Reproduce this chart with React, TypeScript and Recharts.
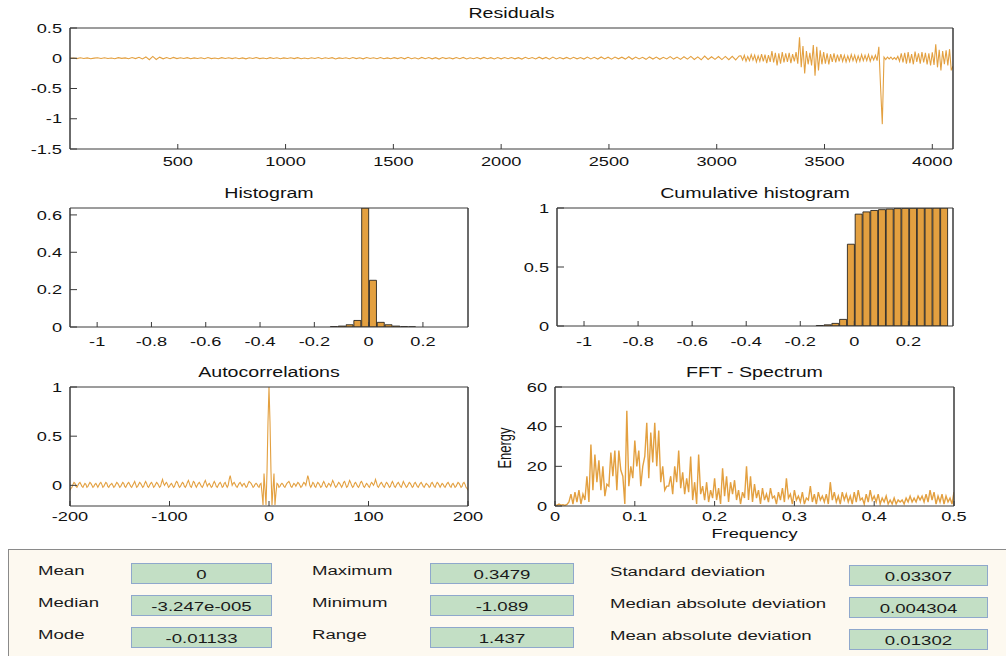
import { ComposedChart, Line, Bar, XAxis, YAxis } from "recharts";

const FONT = '"Liberation Sans", Arial, Helvetica, sans-serif';
const ORANGE = "#e3a040";
const AXIS = "#3a3a3a";
const SX = 1.4; // the source picture is stretched horizontally

// residuals: quiet part one value every 16 samples, busy tail one value every 8 samples
const quietStep = 16;
const residQuiet = [
  0.0, 0.004, -0.006, 0.008, -0.003, 0.006, -0.008, 0.002, 0.007, -0.005, 0.009, -0.004, 0.003, -0.007, 0.01, -0.002,
  0.006, -0.009, 0.011, -0.006, 0.015, -0.012, 0.022, -0.025, 0.03, -0.02, 0.018, -0.01, 0.012, -0.008, 0.014, -0.006,
  0.008, -0.005, 0.01, -0.007, 0.006, -0.004, 0.009, -0.008, 0.012, -0.006, 0.005, -0.009, 0.01, -0.003, 0.007, -0.006,
  0.009, -0.007, 0.006, -0.01, 0.008, -0.004, 0.011, -0.006, 0.005, -0.008, 0.01, -0.005, 0.007, -0.009, 0.006, -0.003,
  0.008, -0.006, 0.01, -0.008, 0.005, -0.007, 0.009, -0.004, 0.012, -0.009, 0.007, -0.005, 0.01, -0.011, 0.006, -0.004,
  0.009, -0.007, 0.011, -0.006, 0.008, -0.01, 0.012, -0.005, 0.007, -0.008, 0.013, -0.009, 0.006, -0.007, 0.01, -0.006,
  0.012, -0.01, 0.015, -0.008, 0.009, -0.012, 0.014, -0.007, 0.011, -0.009, 0.01, -0.013, 0.012, -0.006, 0.009, -0.01,
  0.011, -0.008, 0.013, -0.011, 0.009, -0.007, 0.012, -0.01, 0.014, -0.008, 0.01, -0.012, 0.011, -0.009, 0.013, -0.007,
  0.012, -0.01, 0.009, -0.013, 0.015, -0.008, 0.011, -0.012, 0.018, -0.01, 0.013, -0.015, 0.02, -0.011, 0.012, -0.009,
  0.014, -0.012, 0.016, -0.01, 0.012, -0.014, 0.019, -0.011, 0.015, -0.013, 0.022, -0.012, 0.017, -0.015, 0.02, -0.01,
  0.018, -0.014, 0.025, -0.016, 0.02, -0.012, 0.016, -0.018, 0.022, -0.013, 0.019, -0.017, 0.015, -0.011, 0.028, -0.014,
  0.02, -0.018, 0.024, -0.015, 0.03, -0.02, 0.022, -0.025, 0.035, -0.02, 0.025, -0.018, 0.028, -0.022, 0.03, -0.024,
  0.032, -0.028, 0.038,
];
const busyStart = 3112;
const busyStep = 8;
const residBusy = [
  0.04, -0.03, 0.05, -0.05, 0.03, -0.04, 0.06, -0.03, 0.05, -0.06, 0.04, -0.05,
  0.07, -0.05, 0.06, -0.08, 0.05, -0.06, 0.12, -0.07, 0.09, -0.12, 0.08, -0.09,
  0.1, -0.07, 0.08, -0.06, 0.09, -0.08, 0.07, -0.05, 0.1, -0.09, 0.348, -0.15,
  0.2, -0.25, 0.12, -0.1, 0.09, -0.12, 0.22, -0.29, 0.19, -0.2, 0.13, -0.1,
  0.1, -0.09, 0.08, -0.1, 0.07, -0.06, 0.08, -0.07, 0.06, -0.05, 0.07, -0.05,
  0.05, -0.06, 0.04, -0.05, 0.06, -0.04, 0.05, -0.06, 0.04, -0.05, 0.06, -0.04,
  0.05, -0.04, 0.06, -0.05, 0.04, -0.03, 0.05, -0.04, 0.19, -0.47, -1.089, 0.02,
  -0.02, 0.02, -0.01, 0.02, -0.02, 0.01, -0.02, 0.03, -0.05, 0.08, -0.07, 0.09,
  -0.09, 0.1, -0.08, 0.07, -0.1, 0.11, -0.06, 0.08, -0.09, 0.1, -0.07, 0.09,
  -0.1, 0.08, -0.12, 0.1, -0.11, 0.23, -0.15, 0.14, -0.2, 0.12, -0.1, 0.13,
  -0.12, 0.15, -0.2, -0.13,
];
const residTicksX = [500, 1000, 1500, 2000, 2500, 3000, 3500, 4000];
const residTicksY = [-1.5, -1, -0.5, 0, 0.5];

// histogram bins (50 bins between min and max)
const binCenters = [
  -1.0746, -1.0459, -1.0171, -0.9884, -0.9597, -0.9309, -0.9022, -0.8735, -0.8447, -0.816,
  -0.7872, -0.7585, -0.7298, -0.701, -0.6723, -0.6436, -0.6148, -0.5861, -0.5573, -0.5286,
  -0.4999, -0.4711, -0.4424, -0.4137, -0.3849, -0.3562, -0.3274, -0.2987, -0.27, -0.2412,
  -0.2125, -0.1838, -0.155, -0.1263, -0.0975, -0.0688, -0.0401, -0.0113, 0.0174, 0.0461,
  0.0749, 0.1036, 0.1323, 0.1611, 0.1898, 0.2186, 0.2473, 0.276, 0.3048, 0.3335,
];
const histValues = [
  0, 0, 0, 0, 0, 0, 0, 0, 0, 0,
  0, 0, 0, 0, 0, 0, 0, 0, 0, 0,
  0, 0, 0, 0, 0, 0, 0, 0, 0, 0,
  0, 0, 0, 0.002, 0.005, 0.012, 0.035, 0.637, 0.25, 0.025,
  0.012, 0.005, 0.002, 0.001, 0, 0, 0, 0, 0, 0,
];
const cumValues = [
  0, 0, 0, 0, 0, 0, 0, 0, 0, 0,
  0, 0, 0, 0, 0, 0, 0, 0, 0, 0,
  0, 0, 0, 0, 0, 0, 0, 0, 0, 0,
  0, 0, 0, 0.004, 0.01, 0.022, 0.056, 0.693, 0.948, 0.967,
  0.979, 0.986, 0.991, 0.995, 0.997, 0.998, 0.999, 0.999, 1, 1,
];
const histTicksX = [-1, -0.8, -0.6, -0.4, -0.2, 0, 0.2];
const histTicksY = [0, 0.2, 0.4, 0.6];
const cumTicksY = [0, 0.5, 1];

// autocorrelation for lags 0..200 (symmetric)
const acfPositive = [
  1, 0.65, 0.14, -0.2, -0.04, 0.12, -0.2, -0.08, 0.02, 0.01,
  -0.02, -0.01, 0.01, 0.02, 0.01, -0.01, -0.02, 0.0, 0.02, 0.03,
  0.04, 0.02, -0.01, -0.02, 0.0, 0.02, 0.01, -0.01, 0.01, 0.03,
  0.02, 0.0, -0.02, -0.01, 0.01, 0.03, 0.02, 0.0, 0.05, 0.1,
  0.06, 0.0, -0.02, 0.0, 0.03, 0.02, -0.01, -0.02, 0.01, 0.03,
  0.02, 0.0, -0.02, -0.01, 0.02, 0.04, 0.02, -0.01, -0.02, 0.0,
  0.02, 0.01, -0.01, 0.02, 0.05, 0.03, 0.0, -0.02, -0.01, 0.01,
  0.03, 0.02, 0.0, -0.02, 0.0, 0.03, 0.04, 0.01, -0.02, -0.01,
  0.02, 0.05, 0.03, 0.0, -0.02, -0.01, 0.02, 0.03, 0.01, -0.01,
  -0.02, 0.0, 0.03, 0.04, 0.02, -0.01, -0.02, 0.0, 0.02, 0.01,
  -0.01, -0.02, 0.01, 0.03, 0.02, 0.0, 0.02, 0.06, 0.03, -0.01,
  -0.02, 0.0, 0.02, 0.03, 0.01, -0.01, -0.02, 0.01, 0.03, 0.02,
  0.0, -0.02, -0.01, 0.02, 0.04, 0.02, -0.01, -0.02, 0.0, 0.02,
  0.03, 0.01, -0.01, -0.02, 0.01, 0.04, 0.02, 0.0, -0.02, -0.01,
  0.01, 0.03, 0.02, 0.0, -0.02, -0.01, 0.02, 0.03, 0.01, -0.01,
  -0.02, 0.0, 0.02, 0.03, 0.01, -0.01, -0.02, 0.0, 0.02, 0.01,
  0.0, -0.02, -0.01, 0.02, 0.03, 0.01, -0.01, -0.02, 0.01, 0.03,
  0.02, 0.0, -0.02, 0.0, 0.02, 0.01, -0.01, -0.02, 0.0, 0.02,
  0.03, 0.01, -0.01, -0.02, 0.01, 0.02, 0.0, -0.02, -0.01, 0.01,
  0.03, 0.02, 0.0, -0.02, -0.01, 0.02, 0.03, 0.01, -0.02, -0.03,
  -0.05,
];
const acfTicksX = [-200, -100, 0, 100, 200];
const acfTicksY = [0, 0.5, 1];

// FFT energy, one value every 0.0025 in frequency
const fftStep = 0.0025;
const fftEnergy = [
  0.5, 0.3, 1, 0.4, 0.6, 0.3, 0.8, 2, 6, 1,
  7, 2, 8, 1, 6, 3, 15, 2, 31, 8,
  26, 12, 23, 8, 20, 5, 11, 10, 27, 15,
  28, 8, 28, 18, 15, 1, 48, 10, 20, 14,
  33, 20, 28, 10, 20, 25, 42, 14, 37, 22,
  42, 20, 38, 12, 20, 8, 10, 10, 15, 6,
  20, 12, 28, 9, 17, 6, 14, 7, 25, 3,
  12, 1, 26, 6, 10, 3, 12, 2, 8, 4,
  14, 3, 9, 1, 19, 5, 15, 2, 12, 6,
  13, 3, 8, 1, 7, 4, 20, 3, 15, 2,
  11, 4, 8, 1, 9, 3, 6, 2, 9, 4,
  5, 1, 7, 3, 9, 2, 14, 4, 6, 1,
  8, 3, 5, 2, 7, 1, 4, 3, 10, 2,
  6, 1, 7, 3, 5, 2, 6, 1, 12, 3,
  7, 2, 5, 1, 7, 3, 6, 2, 5, 1,
  7, 2, 8, 3, 4, 1, 6, 2, 8, 3,
  5, 2, 6, 1, 4, 2, 5, 1, 3, 1,
  4, 1, 3, 2, 3, 1, 4, 2, 5, 2,
  4, 2, 5, 3, 5, 2, 6, 2, 8, 3,
  7, 1, 5, 2, 6, 1, 5, 2, 4, 1,
  7,
];
const fftTicksX = [0, 0.1, 0.2, 0.3, 0.4, 0.5];
const fftTicksY = [0, 20, 40, 60];

// statistics panel
const statNamesA = ["Mean", "Median", "Mode"];
const statValuesA = ["0", "-3.247e-005", "-0.01133"];
const statNamesB = ["Maximum", "Minimum", "Range"];
const statValuesB = ["0.3479", "-1.089", "1.437"];
const statNamesC = ["Standard deviation", "Median absolute deviation", "Mean absolute deviation"];
const statValuesC = ["0.03307", "0.004304", "0.01302"];

const residData = [
  ...residQuiet.map((y, i) => ({ x: i * quietStep, y })),
  ...residBusy.map((y, j) => ({ x: busyStart + j * busyStep, y })),
];
const histData = binCenters.map((x, i) => ({ x, v: histValues[i] }));
const cumData = binCenters.map((x, i) => ({ x, v: cumValues[i] }));
const acfData = [
  ...acfPositive.slice(1).map((y, i) => ({ x: -(i + 1), y })).reverse(),
  ...acfPositive.map((y, i) => ({ x: i, y })),
];
const fftData = fftEnergy.map((y, i) => ({ x: +(i * fftStep).toFixed(4), y }));

function XTick(props: any) {
  const { x, y, payload, off } = props;
  return (
    <g transform={`translate(${x},${y + off}) scale(${SX},1)`}>
      <text textAnchor="middle" fontSize={13} fontFamily={FONT} fill="#111">
        {payload.value}
      </text>
    </g>
  );
}

function YTick(props: any) {
  const { x, y, payload } = props;
  return (
    <g transform={`translate(${x - 8},${y + 4.6}) scale(${SX},1)`}>
      <text textAnchor="end" fontSize={13} fontFamily={FONT} fill="#111">
        {payload.value}
      </text>
    </g>
  );
}

function boxAxes(xd: number[], xt: number[], yd: number[], yt: number[], off: number, key: string) {
  const xl = { stroke: AXIS, strokeWidth: 1 };
  const yl = { stroke: AXIS, strokeWidth: 1.5 };
  return [
    <XAxis key="xb" xAxisId="b" type="number" dataKey="x" domain={xd} ticks={xt} interval={0}
      allowDataOverflow height={30} tickSize={-5} tickMargin={5} axisLine={xl} tickLine={xl}
      tick={<XTick off={off} />} />,
    <XAxis key="xt" xAxisId="t" orientation="top" type="number" dataKey="x" domain={xd} ticks={xt}
      interval={0} allowDataOverflow height={1} tickSize={-5} axisLine={xl} tickLine={xl} tick={false} />,
    <YAxis key="yl" yAxisId="l" type="number" domain={yd} ticks={yt} interval={0} allowDataOverflow
      width={60} tickSize={-7} tickMargin={7} axisLine={yl} tickLine={xl} tick={<YTick />} />,
    <YAxis key="yr" yAxisId="r" orientation="right" type="number" domain={yd} ticks={yt} interval={0}
      allowDataOverflow width={1} tickSize={-7} axisLine={yl} tickLine={xl} tick={false} />,
    // invisible copy of the series so the mirrored box axes have something to measure
    <Line key="mirror" xAxisId="t" yAxisId="r" type="linear" dataKey={key} stroke="none"
      dot={false} activeDot={false} isAnimationActive={false} />,
  ];
}

function Frame({ L, T, R, B, data, children }: any) {
  return (
    <div style={{ position: "absolute", left: L - 60, top: T - 10 }}>
      <ComposedChart width={R - L + 90} height={B - T + 50} data={data}
        margin={{ top: 9, right: 29, bottom: 10, left: 0 }}>
        {children}
      </ComposedChart>
    </div>
  );
}

function Title({ L, R, T, text }: any) {
  return (
    <div style={{
      position: "absolute", left: L, width: R - L, top: T - 23, textAlign: "center",
      fontFamily: FONT, fontSize: 14, color: "#111", transform: `scaleX(${SX})`, lineHeight: "16px",
    }}>
      {text}
    </div>
  );
}

function StatColumn({ names, values, labelX, boxX, boxW, shift }: any) {
  const rows = [562, 594, 626];
  const txt = { fontFamily: FONT, fontSize: 12, color: "#1a1a1a", lineHeight: "14px" };
  return (
    <>
      {names.map((n: string, i: number) => (
        <div key={"n" + i} style={{
          ...txt, position: "absolute", left: labelX, top: rows[i] + 1 + shift / 2 - 549,
          transform: "scaleX(1.55)", transformOrigin: "left center", whiteSpace: "nowrap",
        }}>{n}</div>
      ))}
      {values.map((v: string, i: number) => (
        <div key={"v" + i} style={{
          position: "absolute", left: boxX - 8, top: rows[i] + shift - 549, width: boxW, height: 19,
          background: "#c3dfc5", border: "1px solid #8fa8cc",
        }}>
          <div style={{ ...txt, textAlign: "center", marginTop: 4, transform: "scaleX(1.55)" }}>{v}</div>
        </div>
      ))}
    </>
  );
}

export default function App() {
  return (
    <div style={{ position: "absolute", left: 0, top: 0, width: 1006, height: 656, overflow: "hidden", background: "#fff" }}>
      <Title L={70} R={953} T={28} text="Residuals" />
      <Frame L={70} T={28} R={953} B={149} data={residData}>
        {boxAxes([0, 4096], residTicksX, [-1.5, 0.5], residTicksY, 16.6, "y")}
        <Line xAxisId="b" yAxisId="l" type="linear" dataKey="y" stroke={ORANGE} strokeWidth={1.1}
          dot={false} activeDot={false} isAnimationActive={false} />
      </Frame>

      <Title L={70} R={468} T={208} text="Histogram" />
      <Frame L={70} T={208} R={468} B={327} data={histData}>
        {boxAxes([-1.1, 0.366], histTicksX, [0, 0.637], histTicksY, 18.6, "v")}
        <Bar xAxisId="b" yAxisId="l" dataKey="v" fill={ORANGE} stroke="#111" strokeWidth={0.8}
          barSize={7} isAnimationActive={false} />
      </Frame>

      <Title L={557} R={953} T={208} text="Cumulative histogram" />
      <Frame L={557} T={208} R={953} B={326} data={cumData}>
        {boxAxes([-1.1, 0.365], histTicksX, [0, 1], cumTicksY, 19.5, "v")}
        <Bar xAxisId="b" yAxisId="l" dataKey="v" fill={ORANGE} stroke="#111" strokeWidth={0.8}
          barSize={7} isAnimationActive={false} />
      </Frame>

      <Title L={70} R={468} T={387} text="Autocorrelations" />
      <Frame L={70} T={387} R={468} B={506} data={acfData}>
        {boxAxes([-200, 200], acfTicksX, [-0.21, 1], acfTicksY, 15.3, "y")}
        <Line xAxisId="b" yAxisId="l" type="linear" dataKey="y" stroke={ORANGE} strokeWidth={1.1}
          dot={false} activeDot={false} isAnimationActive={false} />
      </Frame>

      <Title L={555} R={954} T={387} text="FFT - Spectrum" />
      <Frame L={555} T={387} R={954} B={506} data={fftData}>
        {boxAxes([0, 0.5], fftTicksX, [0, 60], fftTicksY, 15.3, "y")}
        <Line xAxisId="b" yAxisId="l" type="linear" dataKey="y" stroke={ORANGE} strokeWidth={1.4}
          dot={false} activeDot={false} isAnimationActive={false} />
      </Frame>
      <div style={{
        position: "absolute", left: 555, width: 399, top: 526, textAlign: "center",
        fontFamily: FONT, fontSize: 13, color: "#111", transform: `scaleX(${SX})`, lineHeight: "16px",
      }}>Frequency</div>
      <div style={{
        position: "absolute", left: 465, width: 80, top: 440, textAlign: "center",
        fontFamily: FONT, fontSize: 13, color: "#111", lineHeight: "16px",
        transform: `scaleX(${SX}) rotate(-90deg)`,
      }}>Energy</div>

      <div style={{
        position: "absolute", left: 8, top: 549, width: 1000, height: 120,
        background: "#fdf9f0", borderTop: "1px solid #8a8a8a", borderLeft: "1px solid #8a8a8a",
      }}>
        <StatColumn names={statNamesA} values={statValuesA} labelX={29} boxX={130} boxW={139} shift={0} />
        <StatColumn names={statNamesB} values={statValuesB} labelX={303} boxX={429} boxW={142} shift={0} />
        <StatColumn names={statNamesC} values={statValuesC} labelX={601} boxX={848} boxW={137} shift={2} />
      </div>
    </div>
  );
}
